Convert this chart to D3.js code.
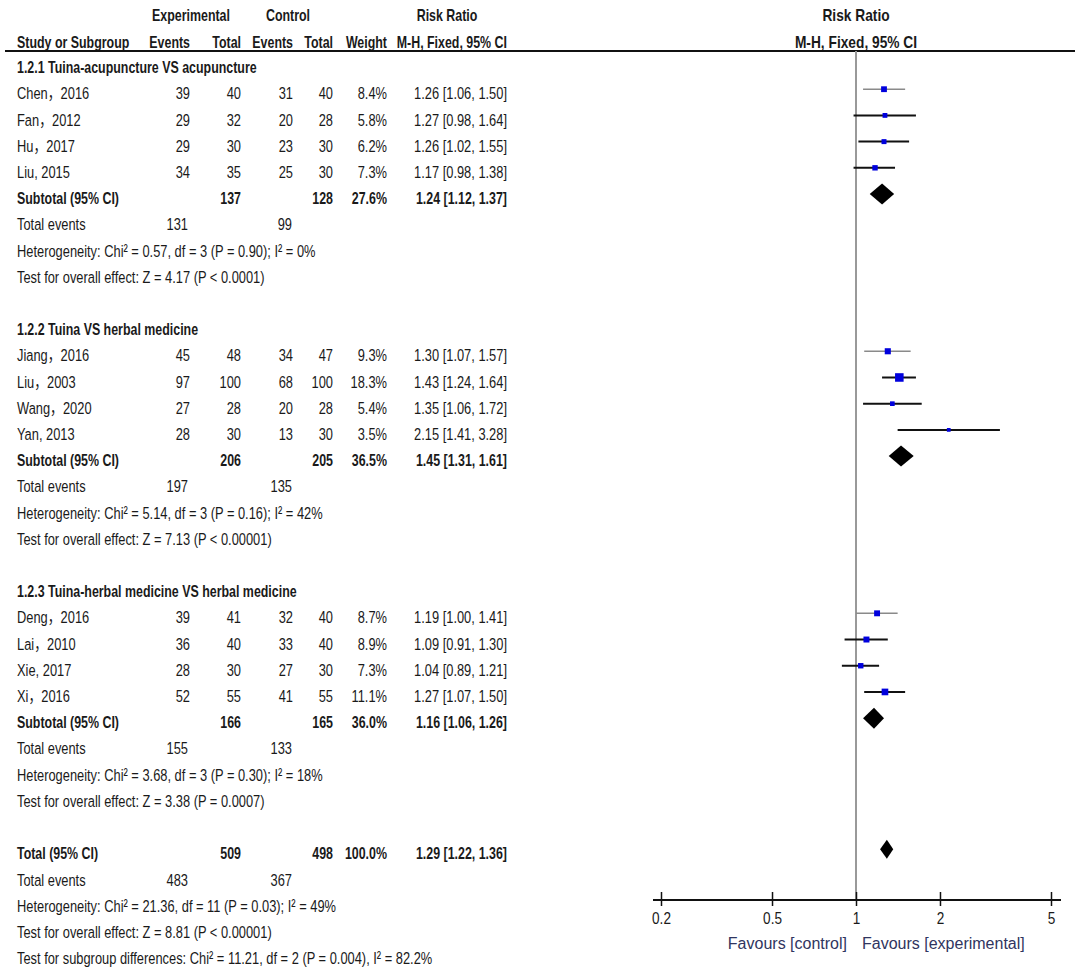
<!DOCTYPE html>
<html>
<head>
<meta charset="utf-8">
<title>Forest plot</title>
<style>
  body { margin: 0; background: #fff; }
  svg text { font-family: "Liberation Sans", Arial, "Noto Sans CJK SC", sans-serif; font-size: 17px; fill: #1a1a1a; }
</style>
</head>
<body>
<script src="https://d3js.org/d3.v7.min.js"></script>
<script>
// study data
let names = ["Chen，2016", "Fan，2012", "Hu，2017", "Liu, 2015",
             "Jiang，2016", "Liu，2003", "Wang，2020", "Yan, 2013",
             "Deng，2016", "Lai，2010", "Xie, 2017", "Xi，2016"];
let group = [0, 0, 0, 0, 1, 1, 1, 1, 2, 2, 2, 2];
let expEvents = [39, 29, 29, 34, 45, 97, 27, 28, 39, 36, 28, 52];
let expTotal = [40, 32, 30, 35, 48, 100, 28, 30, 41, 40, 30, 55];
let ctrlEvents = [31, 20, 23, 25, 34, 68, 20, 13, 32, 33, 27, 41];
let ctrlTotal = [40, 28, 30, 30, 47, 100, 28, 30, 40, 40, 30, 55];
let weight = [8.4, 5.8, 6.2, 7.3, 9.3, 18.3, 5.4, 3.5, 8.7, 8.9, 7.3, 11.1];
let rr = [1.26, 1.27, 1.26, 1.17, 1.30, 1.43, 1.35, 2.15, 1.19, 1.09, 1.04, 1.27];
let lo = [1.06, 0.98, 1.02, 0.98, 1.07, 1.24, 1.06, 1.41, 1.00, 0.91, 0.89, 1.07];
let hi = [1.50, 1.64, 1.55, 1.38, 1.57, 1.64, 1.72, 3.28, 1.41, 1.30, 1.21, 1.50];

// subgroup data
let groupTitles = ["1.2.1 Tuina-acupuncture VS acupuncture",
                   "1.2.2 Tuina VS herbal medicine",
                   "1.2.3 Tuina-herbal medicine VS herbal medicine"];
let subExpTotal = [137, 206, 166];
let subCtrlTotal = [128, 205, 165];
let subWeight = [27.6, 36.5, 36.0];
let subRR = [1.24, 1.45, 1.16];
let subLo = [1.12, 1.31, 1.06];
let subHi = [1.37, 1.61, 1.26];
let subExpEvents = [131, 197, 155];
let subCtrlEvents = [99, 135, 133];
let subHet = ["Heterogeneity: Chi² = 0.57, df = 3 (P = 0.90); I² = 0%",
              "Heterogeneity: Chi² = 5.14, df = 3 (P = 0.16); I² = 42%",
              "Heterogeneity: Chi² = 3.68, df = 3 (P = 0.30); I² = 18%"];
let subTest = ["Test for overall effect: Z = 4.17 (P < 0.0001)",
               "Test for overall effect: Z = 7.13 (P < 0.00001)",
               "Test for overall effect: Z = 3.38 (P = 0.0007)"];

// overall
let totExpTotal = 509, totCtrlTotal = 498, totWeight = 100.0;
let totRR = 1.29, totLo = 1.22, totHi = 1.36;
let totExpEvents = 483, totCtrlEvents = 367;
let totHet = "Heterogeneity: Chi² = 21.36, df = 11 (P = 0.03); I² = 49%";
let totTest = "Test for overall effect: Z = 8.81 (P < 0.00001)";
let subDiff = "Test for subgroup differences: Chi² = 11.21, df = 2 (P = 0.004), I² = 82.2%";

let tickValues = [0.2, 0.5, 1, 2, 5];
let favLeft = "Favours [control]", favRight = "Favours [experimental]";

// layout
let W = 1084, H = 972;
let svg = d3.select("body").append("svg").attr("width", W).attr("height", H);

let col = { name: 17, expE: 190, expT: 241, ctrlE: 293, ctrlT: 333, weight: 387, ci: 507 };
let f2 = d3.format(".2f");
let ciText = function(m, l, h) { return f2(m) + " [" + f2(l) + ", " + f2(h) + "]"; };
// no narrow face installed, so squeeze Liberation Sans
let sqReg = 0.757, sqBold = 0.73;

// build the list of rows
let rows = [];
for (let g = 0; g < groupTitles.length; g++) {
    rows.push({ type: "title", g: g });
    names.forEach(function(n, i) {
        if (group[i] == g) rows.push({ type: "study", i: i });
    });
    rows.push({ type: "sub", g: g });
    rows.push({ type: "events", e: subExpEvents[g], c: subCtrlEvents[g] });
    rows.push({ type: "note", t: subHet[g] });
    rows.push({ type: "note", t: subTest[g] });
    rows.push({ type: "blank" });
}
rows.push({ type: "total" });
rows.push({ type: "events", e: totExpEvents, c: totCtrlEvents });
rows.push({ type: "note", t: totHet });
rows.push({ type: "note", t: totTest });
rows.push({ type: "note", t: subDiff });

let y = d3.scaleLinear().domain([0, rows.length - 1]).range([67, 958]);
let x = d3.scaleLog().domain([0.2, 5]).range([661, 1051]);
let markOff = -4;

function txt(s, xx, yy, anchor, bold, sq) {
    let k = sq || (bold ? sqBold : sqReg);
    return svg.append("text")
        .attr("transform", "translate(" + xx + "," + yy + ") scale(" + k + ",1)")
        .attr("dy", "0.36em")
        .attr("text-anchor", anchor || "start")
        .style("font-weight", bold ? "bold" : "normal")
        .text(s);
}

// headers
txt("Experimental", 191, 15, "middle", true);
txt("Control", 288, 15, "middle", true);
txt("Risk Ratio", 447, 15, "middle", true);
txt("Study or Subgroup", col.name, 42, "start", true);
txt("Events", col.expE, 42, "end", true);
txt("Total", col.expT, 42, "end", true);
txt("Events", col.ctrlE, 42, "end", true);
txt("Total", col.ctrlT, 42, "end", true);
txt("Weight", col.weight, 42, "end", true);
txt("M-H, Fixed, 95% CI", col.ci, 42, "end", true);
txt("Risk Ratio", x(1), 15, "middle", true, 0.86).style("font-size", "16px");
txt("M-H, Fixed, 95% CI", x(1), 42, "middle", true, 0.86).style("font-size", "16px");

svg.append("line").attr("x1", 5).attr("x2", 1075).attr("y1", 51).attr("y2", 51)
    .attr("stroke", "#111").attr("stroke-width", 2);

// line of no effect
svg.append("line").attr("x1", x(1)).attr("x2", x(1)).attr("y1", 51).attr("y2", 900)
    .attr("stroke", "#999").attr("stroke-width", 2);

// rows
rows.forEach(function(r, k) {
    let yy = y(k);
    if (r.type == "title") {
        txt(groupTitles[r.g], col.name, yy, "start", true);
    } else if (r.type == "study") {
        let i = r.i;
        txt(names[i], col.name, yy);
        txt(expEvents[i], col.expE, yy, "end");
        txt(expTotal[i], col.expT, yy, "end");
        txt(ctrlEvents[i], col.ctrlE, yy, "end");
        txt(ctrlTotal[i], col.ctrlT, yy, "end");
        txt(weight[i].toFixed(1) + "%", col.weight, yy, "end");
        txt(ciText(rr[i], lo[i], hi[i]), col.ci, yy, "end");
        let first = i == 0 || group[i - 1] != group[i];
        svg.append("line")
            .attr("x1", x(lo[i])).attr("x2", x(hi[i]))
            .attr("y1", yy + markOff).attr("y2", yy + markOff)
            .attr("stroke", first ? "#8a8a8a" : "#111")
            .attr("stroke-width", first ? 1.5 : 2);
        let s = 2 * Math.sqrt(weight[i]);
        svg.append("rect")
            .attr("x", x(rr[i]) - s / 2).attr("y", yy + markOff - s / 2)
            .attr("width", s).attr("height", s)
            .attr("fill", "#0000dd");
    } else if (r.type == "sub" || r.type == "total") {
        let isSub = r.type == "sub";
        let g = r.g;
        txt(isSub ? "Subtotal (95% CI)" : "Total (95% CI)", col.name, yy, "start", true);
        txt(isSub ? subExpTotal[g] : totExpTotal, col.expT, yy, "end", true);
        txt(isSub ? subCtrlTotal[g] : totCtrlTotal, col.ctrlT, yy, "end", true);
        txt((isSub ? subWeight[g] : totWeight).toFixed(1) + "%", col.weight, yy, "end", true);
        let m = isSub ? subRR[g] : totRR, l = isSub ? subLo[g] : totLo, h = isSub ? subHi[g] : totHi;
        txt(ciText(m, l, h), col.ci, yy, "end", true);
        let dh = isSub ? 10.5 : 9.5;
        let cy = yy + markOff;
        svg.append("path")
            .attr("d", "M" + x(l) + "," + cy + "L" + x(m) + "," + (cy - dh) +
                "L" + x(h) + "," + cy + "L" + x(m) + "," + (cy + dh) + "Z")
            .attr("fill", "#000");
    } else if (r.type == "events") {
        txt("Total events", col.name, yy);
        txt(r.e, col.expE - 2, yy, "end");
        txt(r.c, col.ctrlE - 1, yy, "end");
    } else if (r.type == "note") {
        txt(r.t, col.name, yy);
    }
});

// axis
let axisY = 900;
let ax = svg.append("g").attr("transform", "translate(0," + axisY + ")")
    .call(d3.axisBottom(x).tickValues(tickValues).tickFormat(function(d) { return d; })
        .tickSize(6).tickPadding(6));
ax.select(".domain").remove();
ax.selectAll(".tick line").attr("y1", -8).attr("y2", 6).attr("stroke", "#111").attr("stroke-width", 1.5);
ax.selectAll(".tick text").attr("transform", "scale(0.8,1)")
    .style("font-size", "17px").attr("fill", "#1a1a1a")
    .style("font-family", "\"Liberation Sans\", Arial, sans-serif");
ax.append("line").attr("x1", x.range()[0] - 8).attr("x2", x.range()[1] + 10)
    .attr("y1", 0).attr("y2", 0).attr("stroke", "#111").attr("stroke-width", 2);

txt(favLeft, x(1) - 9, 943, "end", false, 1).style("fill", "#303560").style("font-size", "16px");
txt(favRight, x(1) + 6, 943, "start", false, 1).style("fill", "#303560").style("font-size", "16px");
</script>
</body>
</html>
